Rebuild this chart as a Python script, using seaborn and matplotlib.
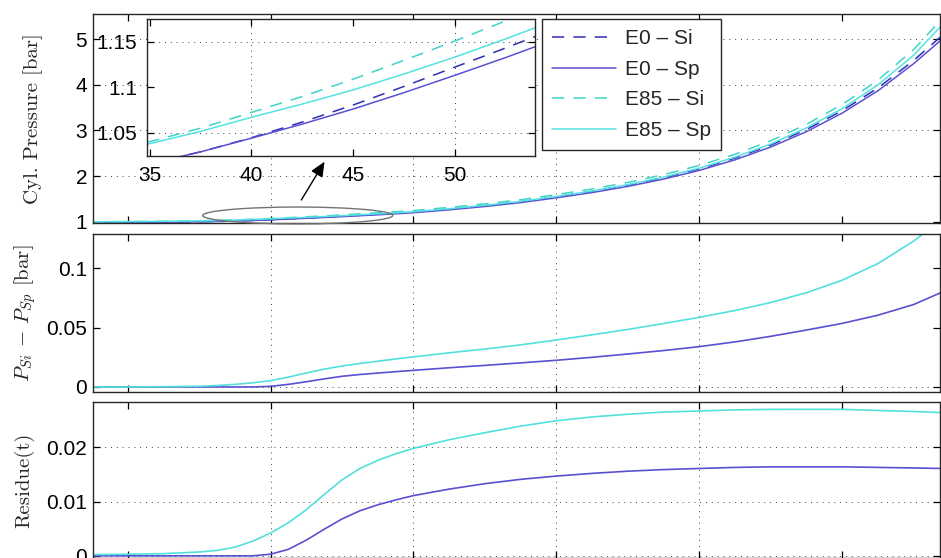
import numpy as np
import pandas as pd
import matplotlib
matplotlib.use("Agg")
import matplotlib.pyplot as plt
import seaborn as sns
from matplotlib.patches import Ellipse
from matplotlib.lines import Line2D
from matplotlib.ticker import FuncFormatter, FixedLocator

# ---------------- data ----------------
angle = [15, 20, 25, 30, 32.5, 35, 37.5, 40, 42.5, 45, 47.5, 50, 52.5, 55,
         57.5, 60, 65, 70, 75, 80, 85, 90, 95, 100, 105, 110, 115, 120, 125,
         130, 134]

p_e0_si = [0.981, 0.985, 0.990, 1.000, 1.007, 1.016, 1.029, 1.0445, 1.0617,
           1.0804, 1.1008, 1.1220, 1.1430, 1.1647, 1.1879, 1.2120, 1.2782,
           1.3532, 1.4403, 1.5475, 1.6650, 1.8028, 1.9657, 2.1590, 2.3940,
           2.6797, 3.0220, 3.4326, 3.9285, 4.5305, 5.0800]
p_e0_sp = [0.981, 0.985, 0.990, 1.000, 1.007, 1.016, 1.029, 1.044, 1.0595,
           1.076, 1.094, 1.113, 1.1325, 1.153, 1.175, 1.198, 1.262, 1.335,
           1.420, 1.525, 1.640, 1.775, 1.935, 2.125, 2.356, 2.637, 2.974,
           3.379, 3.868, 4.461, 5.000]
p_e85_si = [0.999, 1.004, 1.0102, 1.0216, 1.0297, 1.0402, 1.0550, 1.0723,
            1.0898, 1.1088, 1.1295, 1.1507, 1.1728, 1.1957, 1.2201, 1.2454,
            1.3148, 1.3930, 1.4835, 1.5956, 1.7180, 1.8615, 2.0315, 2.2337,
            2.4785, 2.7742, 3.1335, 3.5670, 4.1000, 4.7690, 5.4510]
p_e85_sp = [0.999, 1.004, 1.010, 1.021, 1.0285, 1.038, 1.0515, 1.067, 1.0815,
            1.097, 1.1145, 1.133, 1.153, 1.174, 1.1965, 1.220, 1.286, 1.361,
            1.448, 1.556, 1.674, 1.813, 1.978, 2.175, 2.414, 2.703, 3.054,
            3.477, 3.996, 4.646, 5.310]

dp_e0 = [0, 0, 0, 0, 0, 0, 0, 0.0005, 0.0022, 0.0044, 0.0068, 0.0090, 0.0105,
         0.0117, 0.0129, 0.0140, 0.0162, 0.0182, 0.0203, 0.0225, 0.0250,
         0.0278, 0.0307, 0.0340, 0.0380, 0.0427, 0.0480, 0.0536, 0.0605,
         0.0695, 0.0800]
dp_e85 = [0, 0, 0.0002, 0.0006, 0.0012, 0.0022, 0.0035, 0.0053, 0.0083,
          0.0118, 0.0150, 0.0177, 0.0198, 0.0217, 0.0236, 0.0254, 0.0288,
          0.0320, 0.0355, 0.0396, 0.0440, 0.0485, 0.0535, 0.0587, 0.0645,
          0.0712, 0.0795, 0.0900, 0.1040, 0.1230, 0.1410]

res_e0 = [0, 0, 0, 0, 0, 0, 0, 0.0003, 0.0012, 0.0029, 0.0049, 0.0068, 0.0083,
          0.0094, 0.0103, 0.0111, 0.0123, 0.0133, 0.0141, 0.0147, 0.0152,
          0.0156, 0.0159, 0.0161, 0.0163, 0.0164, 0.0164, 0.0164, 0.0163,
          0.0162, 0.0161]
res_e85 = [0.0002, 0.0003, 0.0004, 0.0007, 0.0010, 0.0016, 0.0027, 0.0042,
           0.0061, 0.0085, 0.0113, 0.0140, 0.0161, 0.0176, 0.0188, 0.0198,
           0.0214, 0.0227, 0.0239, 0.0249, 0.0256, 0.0261, 0.0265, 0.0267,
           0.0269, 0.0270, 0.0270, 0.0270, 0.0268, 0.0266, 0.0264]

series_names = ["E0 – Si", "E0 – Sp", "E85 – Si", "E85 – Sp"]
fuel_names = ["E0", "E85"]

x_ticks = [20, 40, 60, 80, 100, 120]
p_ticks = [1, 2, 3, 4, 5]
dp_ticks = [0, 0.05, 0.1]
res_ticks = [0, 0.01, 0.02]
inset_xticks = [35, 40, 45, 50]
inset_yticks = [1.05, 1.1, 1.15]

# grid lines that are visible in the reference
x_grid = [40, 60, 80, 100]
p_grid = [2, 3, 4, 5]
dp_grid = [0]
res_grid = [0, 0.01, 0.02]
inset_xgrid = [40, 50]
inset_ygrid = [1.05, 1.15]

# ---------------- styling ----------------
sns.set_style("ticks")
plt.rcParams['font.family'] = ['Liberation Sans', 'DejaVu Sans']
plt.rcParams['mathtext.fontset'] = 'cm'

pal = {"E0 – Si": "#2e2eb4", "E0 – Sp": "#5a50d2",
       "E85 – Si": "#3dd6c6", "E85 – Sp": "#55e2e2"}
dash_map = {"E0 – Si": (8, 6), "E0 – Sp": "", "E85 – Si": (8, 6), "E85 – Sp": ""}
fuel_pal = {"E0": "#5a50d2", "E85": "#52e0dc"}

df_p = pd.DataFrame({
    "angle": angle * 4,
    "P": p_e0_si + p_e0_sp + p_e85_si + p_e85_sp,
    "series": sum([[s] * len(angle) for s in series_names], []),
})
df_dp = pd.DataFrame({
    "angle": angle * 2,
    "dP": dp_e0 + dp_e85,
    "fuel": sum([[f] * len(angle) for f in fuel_names], []),
})
df_res = pd.DataFrame({
    "angle": angle * 2,
    "res": res_e0 + res_e85,
    "fuel": sum([[f] * len(angle) for f in fuel_names], []),
})

W, H = 941, 558
fig = plt.figure(figsize=(W / 100, H / 100), dpi=100)


def fig_rect(left, top, right, bottom):
    return [left / W, 1 - bottom / H, (right - left) / W, (bottom - top) / H]


ax1 = fig.add_axes(fig_rect(92.7, 14, 940, 222.7))
ax2 = fig.add_axes(fig_rect(92.7, 234, 940, 391.7))
ax3 = fig.add_axes(fig_rect(92.7, 402.3, 940, 558))
axin = fig.add_axes(fig_rect(146.7, 19, 535, 156))

fmt = FuncFormatter(lambda v, p: f"{v:g}")
grid_kw = dict(linestyle=(0, (1, 5)), color="0.25", linewidth=0.7, zorder=0.5)
TFS = 15

for target in (ax1, axin):
    sns.lineplot(data=df_p, x="angle", y="P", hue="series", style="series",
                 hue_order=series_names, style_order=series_names, palette=pal,
                 dashes=dash_map, linewidth=1.1, estimator=None, errorbar=None,
                 legend=False, ax=target)
sns.lineplot(data=df_dp, x="angle", y="dP", hue="fuel", hue_order=fuel_names,
             palette=fuel_pal, linewidth=1.2, estimator=None, errorbar=None,
             legend=False, ax=ax2)
sns.lineplot(data=df_res, x="angle", y="res", hue="fuel", hue_order=fuel_names,
             palette=fuel_pal, linewidth=1.2, estimator=None, errorbar=None,
             legend=False, ax=ax3)

for ax, yt, ylim, yg in [(ax1, p_ticks, (0.98, 5.55), p_grid),
                         (ax2, dp_ticks, (-0.004, 0.129), dp_grid),
                         (ax3, res_ticks, (-0.0004, 0.0283), res_grid)]:
    ax.set_xlim(15.1, 133.7)
    ax.set_ylim(*ylim)
    ax.xaxis.set_major_locator(FixedLocator(x_ticks))
    ax.yaxis.set_major_locator(FixedLocator(yt))
    ax.yaxis.set_major_formatter(fmt)
    ax.tick_params(direction="in", top=True, right=True, length=5, width=0.9,
                   labelbottom=False, labelsize=TFS, pad=4, colors="black")
    ax.grid(False)
    for gx in x_grid:
        ax.axvline(gx, **grid_kw)
    for gy in yg:
        ax.axhline(gy, **grid_kw)
    ax.set_xlabel("")
    for sp in ax.spines.values():
        sp.set_linewidth(1.0)
        sp.set_color("0.15")

axin.set_xlim(34.84, 53.96)
axin.set_ylim(1.0244, 1.175)
axin.xaxis.set_major_locator(FixedLocator(inset_xticks))
axin.yaxis.set_major_locator(FixedLocator(inset_yticks))
axin.xaxis.set_major_formatter(fmt)
axin.yaxis.set_major_formatter(fmt)
axin.tick_params(direction="in", top=True, right=True, length=5, width=0.9,
                 labelsize=TFS, pad=7, colors="black")
axin.grid(False)
for gx in inset_xgrid:
    axin.axvline(gx, **grid_kw)
for gy in inset_ygrid:
    axin.axhline(gy, **grid_kw)
axin.set_xlabel("")
axin.set_ylabel("")
axin.set_facecolor("white")
for sp in axin.spines.values():
    sp.set_linewidth(1.0)
    sp.set_color("0.15")

# y labels (serif, LaTeX-like)
lab_kw = dict(fontfamily="cmr10", fontsize=15)
ax1.set_ylabel("Cyl. Pressure [bar]", **lab_kw)
ax2.set_ylabel(r"$P_{Si}\,-\,P_{Sp}$ [bar]", **lab_kw)
ax3.set_ylabel("Residue(t)", **lab_kw)
for ax, xc in [(ax1, 33), (ax2, 25), (ax3, 24)]:
    ax.yaxis.set_label_coords((xc - 92.7) / (940 - 92.7), 0.5)
    ax.yaxis.label.set_verticalalignment("center")

# zoom ellipse and arrow
ell = Ellipse((43.8, 1.138), width=26.6, height=0.37, fill=False,
              edgecolor="0.45", linewidth=1.0, clip_on=False, zorder=5)
ax1.add_patch(ell)
ax1.annotate("", xy=(47.55, 2.316), xytext=(44.3, 1.477),
             arrowprops=dict(arrowstyle="-|>,head_length=0.9,head_width=0.4",
                             color="black", lw=1.0, shrinkA=0, shrinkB=0),
             zorder=6)

# legend
handles = []
for s in series_names:
    ls = "-" if dash_map[s] == "" else (0, dash_map[s])
    handles.append(Line2D([0], [0], color=pal[s], lw=1.1, linestyle=ls))
leg = ax1.legend(handles, series_names, loc="upper left",
                 bbox_to_anchor=(541.7 / W, 1 - 19 / H),
                 bbox_transform=fig.transFigure, fontsize=15, frameon=True,
                 fancybox=False, framealpha=1, edgecolor="0.15",
                 borderpad=0.5, labelspacing=0.55, handlelength=3.05,
                 handletextpad=0.45, borderaxespad=0)
leg.get_frame().set_linewidth(1.0)
leg.set_zorder(10)

fig.savefig("out.png", dpi=100)
